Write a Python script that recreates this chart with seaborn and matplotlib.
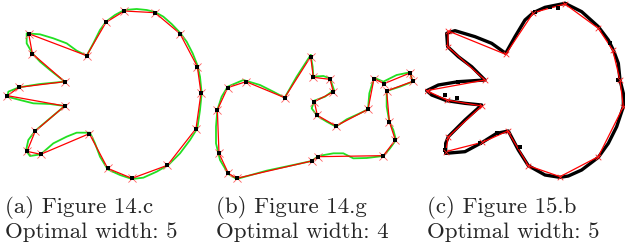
import numpy as np
import pandas as pd
import matplotlib.pyplot as plt
import seaborn as sns

sns.set_style("white")

# shapes, in crop units (crop pixels x3)
# (a) Figure 14.c  -- crop (0,0) 215x190
a_poly_x = [373, 465, 540, 592, 603, 588, 502, 396, 323, 268, 122, 81, 106, 194, 22, 57, 194, 97, 86, 260, 318]
a_poly_y = [33, 38, 101, 200, 279, 386, 496, 535, 505, 401, 463, 454, 393, 318, 287, 262, 245, 161, 101, 167, 67]
a_cont_x = [373, 410, 440, 465, 490, 515, 540, 560, 578, 592, 600, 605, 600, 592, 570, 540, 505, 470, 430, 396,
            360, 323, 300, 285, 270, 230, 200, 160, 122, 90, 78, 85, 106, 150, 194, 150, 100, 60, 22, 25,
            57, 120, 194, 150, 120, 97, 80, 80, 120, 160, 200, 230, 260, 280, 300, 318, 345]
a_cont_y = [30, 27, 30, 36, 50, 72, 98, 125, 160, 195, 230, 280, 330, 385, 420, 460, 495, 515, 533, 537,
            525, 508, 470, 430, 398, 398, 410, 430, 463, 468, 452, 420, 392, 355, 318, 312, 310, 300, 290, 275,
            262, 252, 245, 210, 185, 160, 130, 100, 103, 115, 130, 152, 167, 130, 90, 65, 45]

# (b) Figure 14.g  -- crop (210,30) 215x160
b_poly_x = [302, 310, 360, 370, 313, 322, 378, 474, 492, 522, 600, 608, 530, 538, 556, 520, 325, 305, 80, 55, 27, 22, 53, 108, 224]
b_poly_y = [80, 142, 148, 186, 215, 256, 288, 238, 146, 161, 129, 154, 183, 275, 330, 377, 380, 393, 445, 430, 370, 240, 173, 155, 203]
b_cont_x = [302, 308, 310, 340, 360, 372, 345, 313, 305, 322, 350, 378, 410, 445, 474, 478, 492, 520, 560, 600,
            608, 570, 530, 530, 538, 550, 558, 540, 520, 470, 430, 400, 370, 325, 305, 250, 170, 80, 55, 30,
            18, 18, 22, 35, 53, 100, 150, 190, 224, 260]
b_cont_y = [75, 110, 140, 138, 145, 180, 200, 212, 235, 258, 275, 290, 268, 252, 238, 190, 143, 155, 135, 127,
            155, 170, 183, 230, 275, 300, 330, 355, 378, 384, 385, 370, 370, 378, 393, 405, 422, 447, 432, 390,
            340, 290, 240, 200, 170, 150, 165, 185, 203, 140]

# (c) Figure 15.b  -- crop (425,0) 200x190
c_poly_x = [420, 520, 563, 585, 595, 520, 405, 310, 248, 172, 62, 70, 170, 65, 5, 180, 68, 70, 242, 325]
c_poly_y = [12, 85, 150, 240, 320, 470, 530, 497, 393, 427, 455, 410, 318, 300, 272, 240, 140, 93, 163, 38]
c_cont_x = [420, 470, 520, 550, 565, 580, 585, 595, 595, 575, 550, 520, 470, 430, 405, 360, 310, 280, 250, 215,
            172, 120, 62, 62, 70, 120, 170, 120, 65, 20, 5, 40, 100, 180, 140, 100, 68, 65, 90, 150,
            200, 242, 270, 300, 325, 360]
c_cont_y = [10, 35, 80, 120, 150, 190, 240, 280, 320, 380, 430, 472, 510, 528, 532, 525, 497, 450, 393, 400,
            427, 455, 460, 430, 410, 360, 315, 310, 302, 285, 272, 255, 245, 240, 200, 170, 140, 100, 92, 110,
            130, 160, 110, 60, 38, 22]
c_noise_x = [60, 95, 580, 555, 285, 215, 165, 100, 375, 400, 330, 60]
c_noise_y = [285, 295, 240, 130, 440, 400, 430, 245, 20, 25, 35, 450]

captions = ["(a) Figure 14.c", "(b) Figure 14.g", "(c) Figure 15.b"]
widths = [5, 4, 5]

W, H = 625, 245
fig = plt.figure(figsize=(W / 100, H / 100), dpi=100)


def panel(x0, y0, w, h):
    ax = fig.add_axes([x0 / W, 1 - (y0 + h) / H, w / W, h / H])
    ax.set_xlim(0, w * 3)
    ax.set_ylim(h * 3, 0)
    ax.axis("off")
    return ax


def closed(xs, ys):
    return pd.DataFrame({"x": list(xs) + [xs[0]], "y": list(ys) + [ys[0]]})


def draw(ax, px, py, cx, cy, ccol, clw, squares):
    cont = closed(cx, cy)
    sns.lineplot(data=cont, x="x", y="y", sort=False, estimator=None, color=ccol, lw=clw, ax=ax)
    poly = closed(px, py)
    sns.lineplot(data=poly, x="x", y="y", sort=False, estimator=None, color="#ff0000", lw=0.9, ax=ax)
    pts = pd.DataFrame({"x": px, "y": py})
    if squares:
        sns.scatterplot(data=pts, x="x", y="y", marker="x", s=34, color="#ff6060", linewidth=0.6, ax=ax, zorder=4)
        sns.scatterplot(data=pts, x="x", y="y", marker="s", s=8, color="black", linewidth=0, ax=ax, zorder=5)
    else:
        sns.scatterplot(data=pts, x="x", y="y", marker="x", s=16, color="#ff2020", linewidth=0.6, ax=ax, zorder=5)
    ax.set_xlabel("")
    ax.set_ylabel("")
    ax.axis("off")


ax_a = panel(0, 0, 215, 190)
draw(ax_a, a_poly_x, a_poly_y, a_cont_x, a_cont_y, "#22e022", 1.3, True)

ax_b = panel(210, 30, 215, 160)
draw(ax_b, b_poly_x, b_poly_y, b_cont_x, b_cont_y, "#22e022", 1.3, True)

ax_c = panel(425, 0, 200, 190)
draw(ax_c, c_poly_x, c_poly_y, c_cont_x, c_cont_y, "black", 2.4, False)
noise = pd.DataFrame({"x": c_noise_x, "y": c_noise_y})
sns.scatterplot(data=noise, x="x", y="y", marker="s", s=10, color="black", linewidth=0, ax=ax_c, zorder=3)
ax_c.set_xlabel("")
ax_c.set_ylabel("")

cap_x = [5, 216, 427]
for i in range(3):
    fig.text(cap_x[i] / W, 1 - 213 / H, captions[i], family="cmr10", fontsize=16.5, va="baseline")
    fig.text(cap_x[i] / W, 1 - 238 / H, "Optimal width: %d" % widths[i], family="cmr10", fontsize=16.5, va="baseline")

fig.savefig("out.png", dpi=100)
